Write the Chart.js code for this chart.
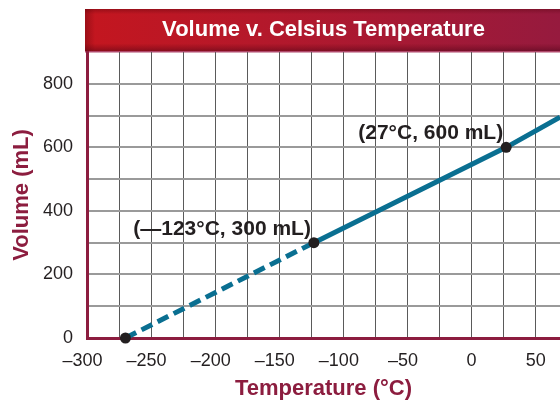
<!DOCTYPE html>
<html>
<head>
<meta charset="utf-8">
<script src="https://cdn.jsdelivr.net/npm/chart.js@4"></script>
<style>
  html, body { margin: 0; padding: 0; background: #ffffff; }
  #wrap { width: 560px; height: 400px; position: relative; }
</style>
</head>
<body>
<div id="wrap"><canvas id="c" width="560" height="400"></canvas></div>
<script>
// ---- data ----
const chartTitle = 'Volume v. Celsius Temperature';
const xAxisTitle = 'Temperature (°C)';
const yAxisTitle = 'Volume (mL)';

const extrapTemps = [-270, -123];          // dashed part
const extrapVols  = [0, 300];
const measuredTemps = [-123, 27, 69];      // solid part
const measuredVols  = [300, 600, 695];
const markTemps = [-270, -123, 27];        // black dots
const markVols  = [0, 300, 600];
const markLabels = ['', '(—123°C, 300 mL)', '(27°C, 600 mL)'];

const xTickValues = [-300, -250, -200, -150, -100, -50, 0, 50];
const yTickValues = [0, 200, 400, 600, 800];

// ---- styling ----
const MAROON = '#8c1d3f';
const TEAL = '#0a6f91';
const INK = '#231f20';
const SANS = '"Liberation Sans", Arial, sans-serif';
const X_MIN = -300, X_MAX = 69, X_GRID = 25;
const Y_MIN = 0, Y_MAX = 900, Y_GRID = 100;

const toXY = (xs, ys) => xs.map((x, i) => ({ x: x, y: ys[i] }));
const fmtX = v => (v < 0 ? '–' + Math.abs(v) + '\u2002' : String(v));
const xGrid = xTickValues.flatMap(v => [v, v + X_GRID]).filter(v => v <= X_MAX);

const titleBar = {
  id: 'titleBar',
  beforeDraw(chart) {
    const { ctx, chartArea } = chart;
    const x0 = chartArea.left - 2, x1 = chart.width, y0 = 9, y1 = chartArea.top;
    ctx.save();
    const g = ctx.createLinearGradient(x0, 0, x1, 0);
    g.addColorStop(0, '#c4161f');
    g.addColorStop(0.35, '#b5182a');
    g.addColorStop(1, '#961a3e');
    ctx.fillStyle = g;
    ctx.fillRect(x0, y0, x1 - x0, y1 - y0);
    const gt = ctx.createLinearGradient(0, y0, 0, y1);
    gt.addColorStop(0, 'rgba(80,0,10,0.35)');
    gt.addColorStop(0.12, 'rgba(80,0,10,0.0)');
    gt.addColorStop(0.8, 'rgba(80,0,10,0.0)');
    gt.addColorStop(0.97, 'rgba(60,0,20,0.4)');
    gt.addColorStop(1, 'rgba(60,0,20,0.4)');
    ctx.fillStyle = gt;
    ctx.fillRect(x0, y0, x1 - x0, y1 - y0);
    const gl = ctx.createLinearGradient(x0, 0, x0 + 10, 0);
    gl.addColorStop(0, 'rgba(80,0,10,0.35)');
    gl.addColorStop(1, 'rgba(80,0,10,0)');
    ctx.fillStyle = gl;
    ctx.fillRect(x0, y0, 10, y1 - y0);
    ctx.fillStyle = '#b0496b';
    ctx.fillRect(x0, y1 - 1, x1 - x0, 1.5);
    ctx.restore();
  }
};

const pointLabels = {
  id: 'pointLabels',
  afterDatasetsDraw(chart) {
    const { ctx, scales } = chart;
    ctx.save();
    ctx.font = 'bold 21px ' + SANS;
    ctx.fillStyle = INK;
    ctx.textAlign = 'right';
    ctx.textBaseline = 'alphabetic';
    markLabels.forEach((t, i) => {
      if (!t) return;
      const px = scales.x.getPixelForValue(markTemps[i]);
      const py = scales.y.getPixelForValue(markVols[i]);
      ctx.fillText(t, px - 3, py - 8);
    });
    ctx.restore();
  }
};

new Chart(document.getElementById('c'), {
  type: 'line',
  data: {
    datasets: [
      {
        label: 'points',
        data: toXY(markTemps, markVols),
        showLine: false,
        clip: false,
        pointRadius: 5.5,
        pointHoverRadius: 5.5,
        pointBackgroundColor: INK,
        pointBorderColor: INK,
        pointBorderWidth: 0,
        order: 0
      },
      {
        label: 'measured',
        data: toXY(measuredTemps, measuredVols),
        borderColor: TEAL,
        borderWidth: 5,
        pointRadius: 0,
        fill: false,
        order: 1
      },
      {
        label: 'extrapolated',
        data: toXY(extrapTemps, extrapVols),
        borderColor: TEAL,
        borderWidth: 5,
        borderDash: [12, 6],
        borderCapStyle: 'butt',
        pointRadius: 0,
        fill: false,
        order: 2
      }
    ]
  },
  options: {
    responsive: false,
    animation: false,
    events: [],
    layout: { autoPadding: false, padding: { top: 9, left: 0, right: 0, bottom: 0 } },
    plugins: {
      legend: { display: false },
      tooltip: { enabled: false },
      title: {
        display: true,
        text: chartTitle,
        fullSize: false,
        color: '#ffffff',
        font: { family: SANS, size: 22, weight: 'bold', lineHeight: 1.2 },
        padding: { top: 8, bottom: 8.6 }
      }
    },
    scales: {
      x: {
        type: 'linear',
        position: 'bottom',
        min: X_MIN,
        max: X_MAX,
        afterBuildTicks: s => { s.ticks = xGrid.map(v => ({ value: v })); },
        afterFit: s => { s.height = 62; s.paddingLeft = 0; s.paddingRight = 0; },
        ticks: {
          autoSkip: false,
          maxRotation: 0,
          padding: 12,
          color: INK,
          font: { family: SANS, size: 18 },
          callback: v => (xTickValues.includes(v) ? fmtX(v) : '')
        },
        grid: { color: '#5a5a5a', lineWidth: 1, drawTicks: false },
        border: { color: MAROON, width: 3 },
        title: {
          display: true,
          text: xAxisTitle,
          color: MAROON,
          font: { family: SANS, size: 22, weight: 'bold', lineHeight: 1.05 },
          padding: { top: 0, bottom: 0 }
        }
      },
      y: {
        type: 'linear',
        min: Y_MIN,
        max: Y_MAX,
        afterFit: s => { s.width = 87; s.paddingTop = 0; s.paddingBottom = 0; },
        ticks: {
          stepSize: Y_GRID,
          padding: 14,
          color: INK,
          font: { family: SANS, size: 18 },
          callback: v => (yTickValues.includes(v) ? String(v) : '')
        },
        grid: {
          color: ctx => (ctx.tick && ctx.tick.value === Y_MAX ? 'rgba(0,0,0,0)' : '#9a9a9a'),
          lineWidth: 2,
          drawTicks: false
        },
        border: { color: MAROON, width: 3 },
        title: {
          display: true,
          text: yAxisTitle,
          color: MAROON,
          font: { family: SANS, size: 22, weight: 'bold', lineHeight: 1.2 },
          padding: { top: 9, bottom: 0 }
        }
      }
    }
  },
  plugins: [titleBar, pointLabels]
});
</script>
</body>
</html>
